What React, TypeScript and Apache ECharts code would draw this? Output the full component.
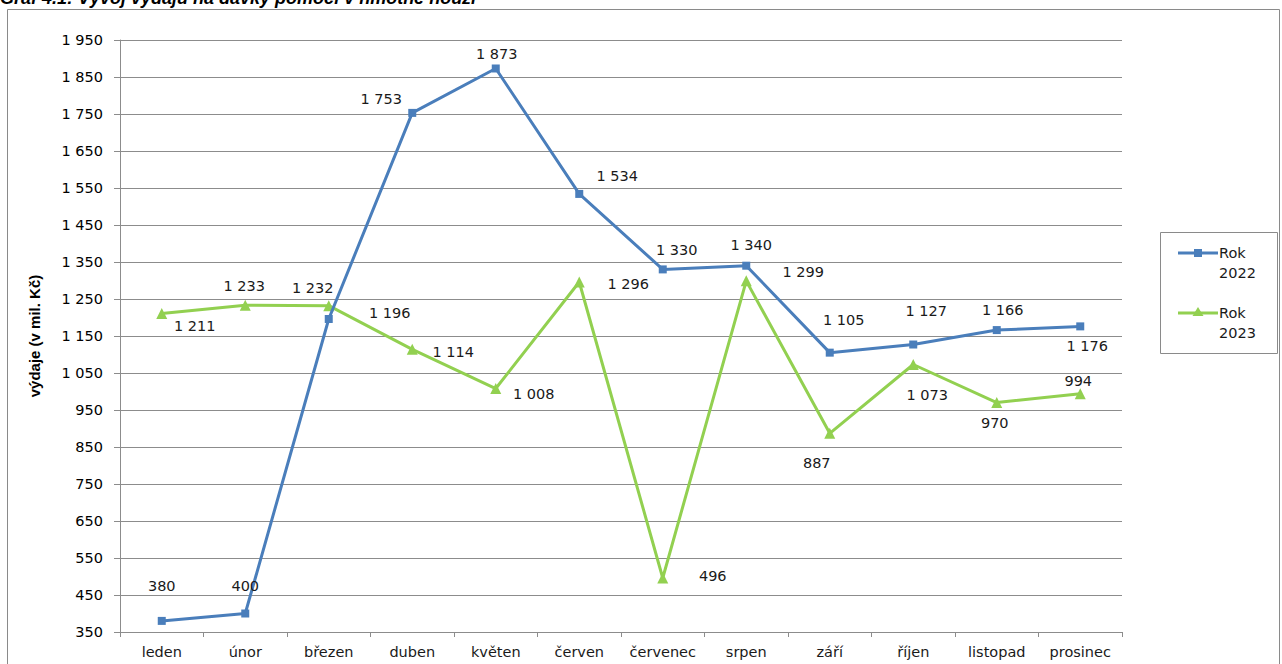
import React, { useEffect, useRef } from "react";
import * as echarts from "echarts";

const months = ["leden", "únor", "březen", "duben", "květen", "červen", "červenec", "srpen", "září", "říjen", "listopad", "prosinec"];
const rok2022 = [380, 400, 1196, 1753, 1873, 1534, 1330, 1340, 1105, 1127, 1166, 1176];
const rok2023 = [1211, 1233, 1232, 1114, 1008, 1296, 496, 1299, 887, 1073, 970, 994];
const yMin = 350;
const yMax = 1950;
const yStep = 100;

// label offsets (layout only)
const off2022 = [[0, -35], [0, -28], [61, -6], [-31, -14], [1, -14], [38, -18], [14, -19], [5, -21], [14, -33], [13, -34], [6, -20], [7, 20]];
const off2023 = [[33, 13], [-1, -19], [-16, -18], [41, 3], [38, 5], [49, 2], [50, -2], [57, -9], [-13, 30], [14, 31], [-2, 20], [-2, -13]];

const BLUE = "#4a7ebb";
const GREEN = "#92d050";
const GRID = "#8c8c8c";

const fmt = (v: number) => {
  const s = String(Math.round(v));
  return s.replace(/\B(?=(\d{3})+(?!\d))/g, " ");
};

export default function App() {
  const ref = useRef<HTMLDivElement>(null);
  useEffect(() => {
    if (!ref.current) return;
    const chart = echarts.init(ref.current, null, { renderer: "svg" });
    const labelFont = { fontFamily: "DejaVu Sans", fontSize: 14.5, color: "#1a1a1a" };
    const mkData = (vals: number[], offs: number[][]) =>
      vals.map((v, i) => ({
        value: v,
        label: { show: true, position: "inside", offset: offs[i], formatter: fmt(v), ...labelFont },
      }));
    chart.setOption({
      animation: false,
      grid: { left: 120, right: 160, top: 40, bottom: 32, containLabel: false },
      xAxis: {
        type: "category",
        data: months,
        boundaryGap: true,
        axisLine: { lineStyle: { color: GRID, width: 1 } },
        axisTick: { show: true, interval: 0, length: 5, lineStyle: { color: GRID } },
        axisLabel: { ...labelFont, interval: 0, hideOverlap: false, margin: 12 },
      },
      yAxis: {
        type: "value",
        min: yMin,
        max: yMax,
        interval: yStep,
        name: "výdaje (v mil. Kč)",
        nameLocation: "middle",
        nameGap: 78,
        nameTextStyle: { fontFamily: "Liberation Sans", fontWeight: "bold", fontSize: 15, color: "#000" },
        axisLine: { show: true, lineStyle: { color: GRID } },
        axisTick: { show: true, inside: false, length: 6, lineStyle: { color: GRID } },
        axisLabel: { formatter: (v: number) => fmt(v), fontFamily: "DejaVu Sans", fontSize: 14.5, color: "#000", margin: 17 },
        splitLine: { show: true, lineStyle: { color: GRID, width: 1 } },
      },
      series: [
        {
          name: "Rok 2022",
          type: "line",
          data: mkData(rok2022, off2022),
          symbol: "rect",
          symbolSize: 8,
          lineStyle: { color: BLUE, width: 3 },
          itemStyle: { color: BLUE },
          z: 3,
        },
        {
          name: "Rok 2023",
          type: "line",
          data: mkData(rok2023, off2023),
          symbol: "triangle",
          symbolSize: 11,
          lineStyle: { color: GREEN, width: 3 },
          itemStyle: { color: GREEN },
          z: 2,
        },
      ],
      graphic: [
        {
          type: "text",
          left: 0,
          top: -11,
          style: {
            text: "Graf 4.1: Vývoj výdajů na dávky pomoci v hmotné nouzi",
            fontFamily: "Liberation Sans",
            fontWeight: "bold",
            fontStyle: "italic",
            fontSize: 18,
            fill: "#000",
          },
        },
        {
          type: "rect",
          shape: { x: 7.5, y: 9.5, width: 1272, height: 700 },
          style: { fill: "none", stroke: "#8a8a8a", lineWidth: 1 },
          silent: true,
        },
        {
          type: "rect",
          shape: { x: 1160.5, y: 232.5, width: 117, height: 121 },
          style: { fill: "#fff", stroke: "#8a8a8a", lineWidth: 1 },
        },
        { type: "line", shape: { x1: 1178, y1: 253, x2: 1218, y2: 253 }, style: { stroke: BLUE, lineWidth: 3 } },
        { type: "rect", shape: { x: 1194, y: 249, width: 8, height: 8 }, style: { fill: BLUE } },
        { type: "text", x: 1219, y: 253, style: { text: "Rok", ...labelFont, fill: "#1a1a1a", verticalAlign: "middle" } },
        { type: "text", x: 1219, y: 273, style: { text: "2022", ...labelFont, fill: "#1a1a1a", verticalAlign: "middle" } },
        { type: "line", shape: { x1: 1178, y1: 313, x2: 1218, y2: 313 }, style: { stroke: GREEN, lineWidth: 3 } },
        { type: "polygon", shape: { points: [[1198, 307], [1203.5, 316], [1192.5, 316]] }, style: { fill: GREEN } },
        { type: "text", x: 1219, y: 313, style: { text: "Rok", ...labelFont, fill: "#1a1a1a", verticalAlign: "middle" } },
        { type: "text", x: 1219, y: 333, style: { text: "2023", ...labelFont, fill: "#1a1a1a", verticalAlign: "middle" } },
      ],
    });
    return () => chart.dispose();
  }, []);
  return (
    <div
      ref={ref}
      style={{ position: "fixed", left: 0, top: 0, width: 1282, height: 664, background: "#fff" }}
    />
  );
}
